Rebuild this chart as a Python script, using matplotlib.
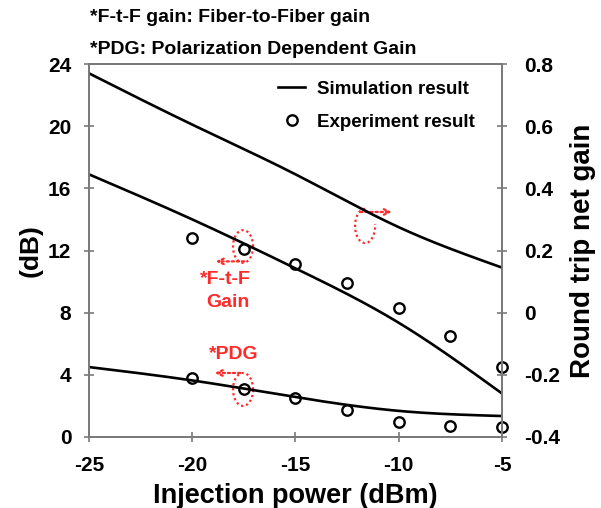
import matplotlib
matplotlib.use("Agg")
import matplotlib.pyplot as plt
from matplotlib.patches import Arc
import numpy as np

plt.rcParams['font.family'] = ['Liberation Sans', 'DejaVu Sans']
plt.rcParams['font.weight'] = 'bold'

# Data
sim_x = [-25, -20, -15, -10, -5]
sim_ftf = [16.9, 14.0, 10.85, 7.35, 2.8]
sim_pdg = [4.5, 3.64, 2.57, 1.68, 1.35]
sim_rt = [0.77, 0.605, 0.445, 0.275, 0.145]

exp_x = [-20, -17.5, -15, -12.5, -10, -7.5, -5]
exp_ftf = [12.8, 12.1, 11.1, 9.9, 8.3, 6.5, 4.5]
exp_pdg = [3.8, 3.1, 2.5, 1.75, 0.97, 0.72, 0.65]

xticks = [-25, -20, -15, -10, -5]
yticks_left = [0, 4, 8, 12, 16, 20, 24]
yticks_right = [-0.4, -0.2, 0, 0.2, 0.4, 0.6, 0.8]


def spline(x, y, n=300):
    x = np.asarray(x, float)
    y = np.asarray(y, float)
    m = len(x)
    h = np.diff(x)
    A = np.zeros((m, m))
    b = np.zeros(m)
    A[0, 0] = 1
    A[-1, -1] = 1
    for i in range(1, m - 1):
        A[i, i - 1] = h[i - 1]
        A[i, i] = 2 * (h[i - 1] + h[i])
        A[i, i + 1] = h[i]
        b[i] = 3 * ((y[i + 1] - y[i]) / h[i] - (y[i] - y[i - 1]) / h[i - 1])
    c = np.linalg.solve(A, b)
    bb = (y[1:] - y[:-1]) / h - h * (2 * c[:-1] + c[1:]) / 3
    d = (c[1:] - c[:-1]) / (3 * h)
    xs = np.linspace(x[0], x[-1], n)
    idx = np.clip(np.searchsorted(x, xs) - 1, 0, m - 2)
    dx = xs - x[idx]
    ys = y[idx] + bb[idx] * dx + c[idx] * dx ** 2 + d[idx] * dx ** 3
    return xs, ys


fig = plt.figure(figsize=(6.01, 5.08), dpi=100)
ax = fig.add_axes([89/601, 1-437/508, (502-89)/601, (437-64)/508])
ax2 = ax.twinx()

lw = 1.9
xs, ys = spline(sim_x, sim_ftf)
ax.plot(xs, ys, color='black', lw=lw)
xs, ys = spline(sim_x, sim_pdg)
ax.plot(xs, ys, color='black', lw=lw)
ax.plot(exp_x, exp_ftf, 'o', mfc='none', mec='black', ms=7.5, mew=1.7, clip_on=False)
ax.plot(exp_x, exp_pdg, 'o', mfc='none', mec='black', ms=7.5, mew=1.7, clip_on=False)
xs, ys = spline(sim_x, sim_rt)
ax2.plot(xs, ys, color='black', lw=lw)

ax.set_xlim(-25, -5)
ax.set_ylim(0, 24)
ax2.set_ylim(-0.4, 0.8)
ax.set_xticks(xticks)
ax.set_xticklabels([str(t) for t in xticks])
ax.set_yticks(yticks_left)
ax.set_yticklabels([str(t) for t in yticks_left])
ax2.set_yticks(yticks_right)
ax2.set_yticklabels(['0' if t == 0 else f'{t:.1f}' for t in yticks_right])

for a in (ax, ax2):
    for s in a.spines.values():
        s.set_color('#7a7a7a')
        s.set_linewidth(1.3)
    a.tick_params(direction='inout', length=7.5, width=1.2, color='#7a7a7a',
                  labelsize=15)
ax.tick_params(axis='y', pad=9)
ax.tick_params(axis='x', pad=10)
ax2.tick_params(axis='y', pad=12)
for lab in ax.get_xticklabels() + ax.get_yticklabels() + ax2.get_yticklabels():
    lab.set_fontweight('bold')

ax.set_xlabel('Injection power (dBm)', fontsize=19.5, fontweight='bold', labelpad=6)
ax.set_ylabel('(dB)', fontsize=19, fontweight='bold', labelpad=4)
ax2.set_ylabel('Round trip net gain', fontsize=20, fontweight='bold', labelpad=7)

# Legend
h1, = ax.plot([], [], color='black', lw=lw)
h2, = ax.plot([], [], 'o', mfc='none', mec='black', ms=7.5, mew=1.7)
ax.legend([h1, h2], ['Simulation result', 'Experiment result'], loc='upper left',
          bbox_to_anchor=((278-89)/413, 0.955), frameon=False, borderpad=0,
          borderaxespad=0, prop={'size': 13.5, 'weight': 'bold'},
          handlelength=1.45, handletextpad=0.65, labelspacing=0.83)

# Header notes
fig.text(90/601, 1-17/508, '*F-t-F gain: Fiber-to-Fiber gain', fontsize=14,
         fontweight='bold', va='center')
fig.text(90/601, 1-49/508, '*PDG: Polarization Dependent Gain', fontsize=14,
         fontweight='bold', va='center')

# Red annotations
red = '#ff2a2a'
dot = dict(color=red, lw=1.6, ls=(0, (1, 1.3)))
ax.add_patch(Arc((-17.54, 12.26), 0.97, 2.1, theta1=0, theta2=360, **dot))
ax.annotate('', xy=(-19.0, 11.3), xytext=(-17.35, 11.3),
            arrowprops=dict(arrowstyle='->', color=red, lw=1.6, ls=(0, (1, 1.3))))
ax.text(-18.4, (437-280)/15.54, '*F-t-F', color=red, fontsize=14, fontweight='bold',
        ha='center', va='center')
ax.text(-18.25, (437-303)/15.54, 'Gain', color=red, fontsize=14, fontweight='bold',
        ha='center', va='center')

ax.add_patch(Arc((-17.54, 3.06), 0.97, 2.12, theta1=0, theta2=360, **dot))
ax.annotate('', xy=(-19.05, 4.12), xytext=(-17.54, 4.12),
            arrowprops=dict(arrowstyle='->', color=red, lw=1.6, ls=(0, (1, 1.3))))
ax.text(-18.0, (437-355)/15.54, '*PDG', color=red, fontsize=14, fontweight='bold',
        ha='center', va='center')

ax.add_patch(Arc((-11.63, 13.58), 0.97, 2.2, theta1=90, theta2=15, **dot))
ax.annotate('', xy=(-10.2, 14.48), xytext=(-12.0, 14.48),
            arrowprops=dict(arrowstyle='->', color=red, lw=1.6, ls=(0, (1, 1.3))))

fig.savefig('out.png', dpi=100)
